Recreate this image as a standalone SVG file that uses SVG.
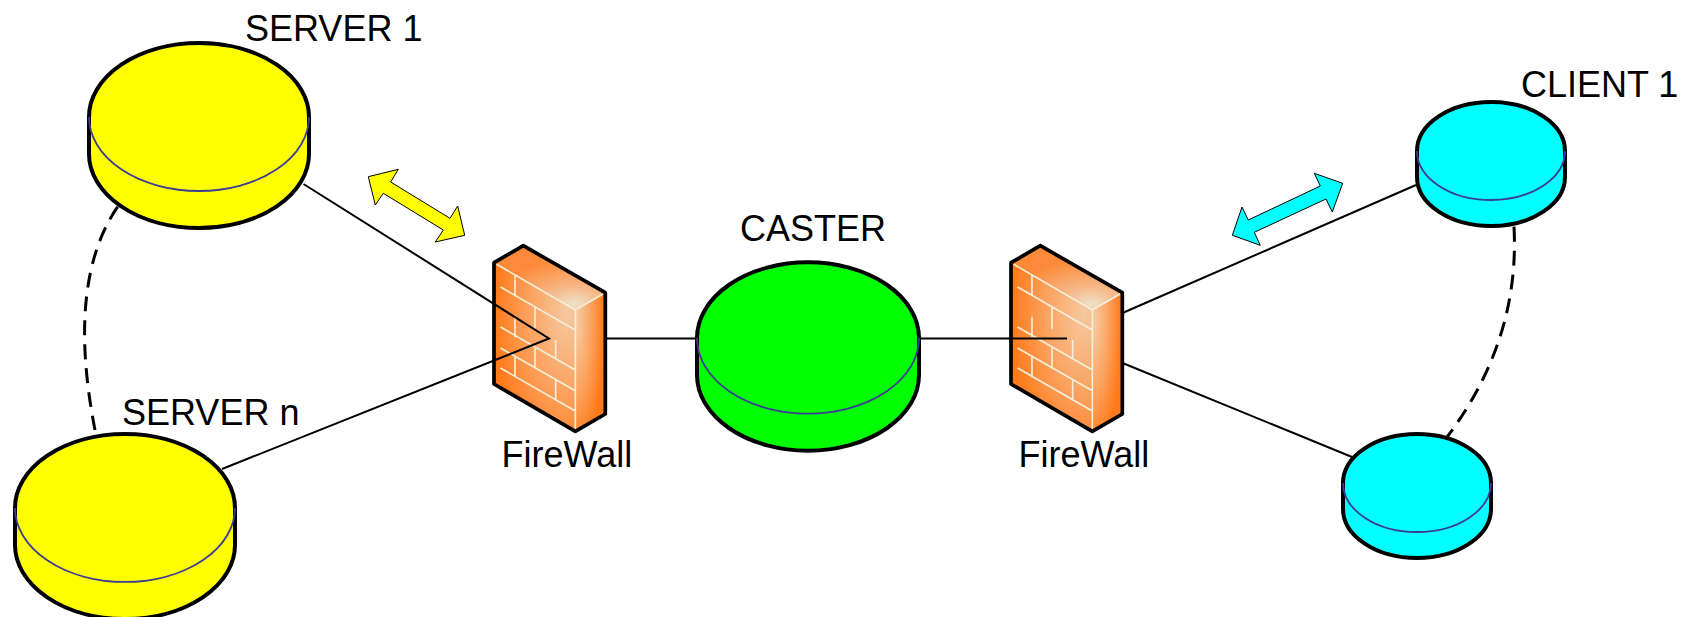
<svg xmlns="http://www.w3.org/2000/svg" xmlns:xlink="http://www.w3.org/1999/xlink" width="1698" height="617" viewBox="0 0 1698 617">
<style>
.disk{stroke:#000;stroke-width:4;stroke-linejoin:round}
.rim{fill:none;stroke:#3c3c96;stroke-width:1.8}
.y{fill:#ffff00}.g{fill:#00ff00}.c{fill:#00ffff}
.lbl{font-family:"Liberation Sans",Arial,sans-serif;font-size:36px;fill:#000}
.link{fill:none;stroke:#000;stroke-width:2}
.dash{fill:none;stroke:#000;stroke-width:3;stroke-dasharray:15 9}
.arrow{stroke:#000;stroke-width:1;stroke-linejoin:miter}
.brick{fill:none;stroke:#f3eeda;stroke-width:5;stroke-linecap:round;stroke-linejoin:round}
</style>
<defs>
<radialGradient id="frontG" cx="0.9" cy="0.3" r="0.9">
<stop offset="0" stop-color="#f5c9a0"/><stop offset="0.5" stop-color="#fba462"/><stop offset="1" stop-color="#ff7a1a"/>
</radialGradient>
<radialGradient id="topG" cx="0.72" cy="0.9" r="0.7">
<stop offset="0" stop-color="#efe2c8"/><stop offset="0.35" stop-color="#f6b98a"/><stop offset="1" stop-color="#fd8a38"/>
</radialGradient>
<radialGradient id="sideG" cx="0" cy="0.2" r="0.95">
<stop offset="0" stop-color="#f6cfaa"/><stop offset="0.5" stop-color="#fba868"/><stop offset="1" stop-color="#ff7a1a"/>
</radialGradient>
<g id="fw" transform="translate(460 230) scale(.33333)">
<polygon points="102,98 346,240 346,604 102,462" fill="url(#frontG)"/>
<polygon points="102,98 190,47 436,188 346,240" fill="url(#topG)"/>
<polygon points="346,240 436,188 436,552 346,604" fill="url(#sideG)"/>
<path class="brick" d="M112,104L346,240V595M346,240L428,193M123,172L346,300M123,292L346,420M123,355L346,482M123,415L346,543M165,135V197M225,233V295M165,262V320M287,332V385M225,355V412M165,382V440M287,452V510"/>
<polygon points="190,47 436,188 436,552 346,604 102,462 102,98" fill="none" stroke="#000" stroke-width="11" stroke-linejoin="round"/>
</g>
</defs>
<rect width="1698" height="617" fill="#fff"/>
<g id="server-1">
<path class="disk y" d="M89 117A110 74 0 0 1 309 117V154A110 74 0 0 1 89 154Z"/>
<path class="rim" d="M89 117A110 74 0 0 0 309 117"/>
<text class="lbl" x="245" y="40.500">SERVER 1</text>
</g>
<g id="server-n">
<path class="disk y" d="M15 508A110 74 0 0 1 235 508V545A110 74 0 0 1 15 545Z"/>
<path class="rim" d="M15 508A110 74 0 0 0 235 508"/>
<text class="lbl" x="122" y="425">SERVER n</text>
</g>
<g id="firewall-1">
<use href="#fw" xlink:href="#fw"/>
<text class="lbl" x="501.500" y="467">FireWall</text>
</g>
<g id="caster">
<path class="disk g" d="M697 338A110 75 0 0 1 919 338V375A110 75 0 0 1 697 375Z"/>
<path class="rim" d="M697 338A110 75 0 0 0 919 338"/>
<text class="lbl" x="740" y="241">CASTER</text>
</g>
<g id="firewall-2">
<use href="#fw" xlink:href="#fw" transform="translate(517 0)"/>
<text class="lbl" x="1018.500" y="467">FireWall</text>
</g>
<g id="client-1">
<path class="disk c" d="M1417 151A74 49 0 0 1 1565 151V177A74 49 0 0 1 1417 177Z"/>
<path class="rim" d="M1417 151A74 49 0 0 0 1565 151"/>
<text class="lbl" x="1521" y="97">CLIENT 1</text>
</g>
<g id="client-n">
<path class="disk c" d="M1343 483A74 49 0 0 1 1491 483V509A74 49 0 0 1 1343 509Z"/>
<path class="rim" d="M1343 483A74 49 0 0 0 1491 483"/>
</g>
<g id="connectors">
<path class="link" d="M303.500 184L549 338.500L222 469"/>
<path class="link" d="M606 338.500H695"/>
<path class="link" d="M920 338.500H1067"/>
<path class="link" d="M1122.500 313L1416 185"/>
<path class="link" d="M1122.500 363L1352 457"/>
<path class="dash" d="M117.700 206.700Q66 282 95 430"/>
<path class="dash" d="M1514 226.700Q1520 340 1447.300 436.700"/>
<polygon class="arrow y" points="368.300,176.700 398.300,169.300 390.700,182 450,218.300 457.700,206 464.700,235.300 435.300,242 443.300,230 383.300,193.300 375.300,205"/>
<polygon class="arrow c" points="1342.700,183.300 1314.300,173.300 1320.300,186 1248.300,220 1242,207 1232.300,235.300 1260.300,245.300 1254.300,232.300 1326,199 1332.300,212"/>
</g>
</svg>
